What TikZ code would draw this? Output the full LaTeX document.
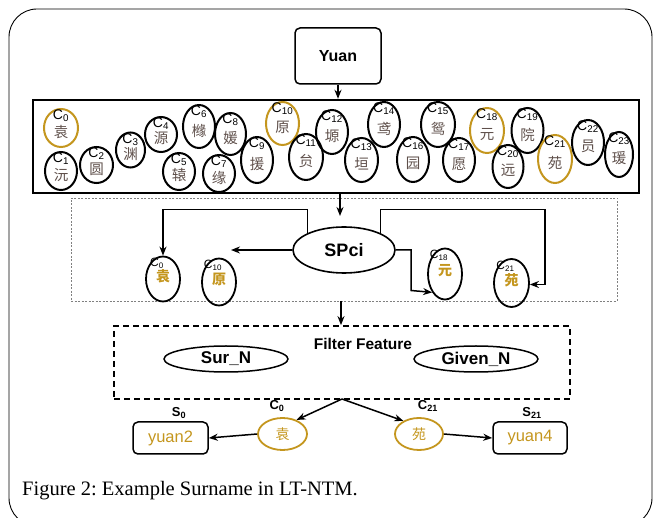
\documentclass[tikz,border=0pt]{standalone}
\usepackage{fontspec}
\setmainfont{Liberation Serif}
\setsansfont{Liberation Sans}
\newfontfamily\cjk{Noto Sans CJK SC}
\usetikzlibrary{arrows.meta,shapes.geometric}
\definecolor{gold}{RGB}{196,150,30}
\definecolor{chr}{RGB}{95,80,75}
\frenchspacing
\begin{document}
\begin{tikzpicture}[x=1pt,y=-1pt,
  cel/.style={ellipse,draw,line width=2pt,inner sep=0pt},
  toplab/.style={inner sep=0pt,font=\sffamily\fontsize{14}{14}\selectfont},
  topch/.style={inner sep=0pt,text=chr,font=\cjk\fontsize{14.5}{14.5}\selectfont},
  midlab/.style={inner sep=0pt,font=\sffamily\fontsize{12}{12}\selectfont},
  goldch/.style={inner sep=0pt,text=gold,font=\cjk\bfseries\fontsize{14}{14}\selectfont},
  goldchl/.style={inner sep=0pt,text=gold,font=\cjk\fontsize{14}{14}\selectfont},
  boldlab/.style={inner sep=0pt,font=\sffamily\bfseries\fontsize{13}{13}\selectfont},
  arr/.style={-{Stealth[length=9pt,width=7pt]},line width=1.5pt},
  rbox/.style={draw,line width=1.5pt,rounded corners=5pt,inner sep=0pt}]
\useasboundingbox (0,0) rectangle (659,518);
% outer frame
\draw[line width=0.9pt,rounded corners=28pt] (9,9) rectangle (652,526);
% Yuan
\node[rbox,minimum width=86pt,minimum height=56pt,font=\sffamily\bfseries\fontsize{16}{16}\selectfont] (yuan) at (338,56) {Yuan};
% big box
\node[draw,line width=2.4pt,minimum width=606pt,minimum height=93pt,inner sep=0pt] (big) at (336,146.5) {};
\foreach \n/\x/\y/\w/\h/\ch/\col in {
 0/61/128/34/38/袁/gold, 1/61/171/32/38/沅/black, 2/96.5/165/33/36/圆/black,
 3/130.5/150/29/35/渊/black, 4/161/134.5/32/35/源/black, 5/179/171.5/32/37/辕/black,
 6/199/126.5/32/43/橼/black, 7/219/173.5/32/37/缘/black, 8/230.5/134/31/42/媛/black,
 9/257/160/32/46/援/black, 10/282.5/123.5/33/43/原/gold, 11/306/157/34/46/贠/black,
 12/332/132/32/44/塬/black, 13/361.5/160/33/44/垣/black, 14/384/124.5/32/45/鸢/black,
 15/438/124.5/34/45/鸳/black, 16/413/159.5/32/45/园/black, 17/459/160/32/44/愿/black,
 18/487/130.5/34/45/元/gold, 19/527.5/130.5/32/45/院/black, 20/508/166.5/31/43/远/black,
 21/555/159/34/48/苑/gold, 22/588/142.5/32/45/员/black, 23/619/154.5/28/45/瑗/black}{
  \node[cel,draw=\col,minimum width=\w pt,minimum height=\h pt] (c\n) at (\x,\y) {};
  \node[toplab] (cl\n) at ([yshift=-8pt]c\n.north) {C\textsubscript{\n}};
  \node[topch] (ch\n) at ([yshift=-4pt]c\n.center) {\ch};
}
% dotted box
\node[draw=gray,line width=0.7pt,dash pattern=on 2pt off 1.5pt,minimum width=546pt,minimum height=103pt,inner sep=0pt] (dot) at (344,249.5) {};
\node[cel,line width=1.6pt,minimum width=102pt,minimum height=46pt,font=\sffamily\bfseries\fontsize{18}{18}\selectfont] (sp) at (344,250) {SPci};
\foreach \n/\x/\y/\w/\h/\ch in {0/163/279/34/45/袁, 10/219/282/34/47/原, 18/445/274/34/51/元, 21/511.5/283/35/48/苑}{
  \node[cel,line width=1.8pt,minimum width=\w pt,minimum height=\h pt] (d\n) at (\x,\y) {};
  \node[midlab] (dl\n) at ([xshift=-6pt,yshift=-8pt]d\n.north) {C\textsubscript{\n}};
  \node[goldch] (dc\n) at ([yshift=3pt]d\n.center) {\ch};
}
\coordinate (top) at (0,209.5);
\coordinate (lfree) at (231,250);
\coordinate (rr) at (545,284.5);
\coordinate (rm) at (411,290.5);
\coordinate (a2) at (340,216);
% dashed box
\node[draw,line width=1.8pt,dash pattern=on 6pt off 4pt,minimum width=456pt,minimum height=73pt,inner sep=0pt] (ff) at (342,362.5) {};
\node[inner sep=0pt,font=\sffamily\bfseries\fontsize{15.5}{15.5}\selectfont] (fft) at (363,344) {Filter Feature};
\node[cel,line width=1.5pt,minimum width=124pt,minimum height=26pt,font=\sffamily\bfseries\fontsize{17}{17}\selectfont] (sur) at (226,359) {Sur\_N};
\node[cel,line width=1.5pt,minimum width=124pt,minimum height=26pt,font=\sffamily\bfseries\fontsize{17}{17}\selectfont] (giv) at (476,359) {Given\_N};
% bottom row
\node[cel,draw=gold,line width=1.8pt,minimum width=49pt,minimum height=32pt] (bc0) at (282.5,434) {};
\node[goldchl] (bch0) at (bc0) {袁};
\node[cel,draw=gold,line width=1.8pt,minimum width=48pt,minimum height=32pt] (bc21) at (419,434) {};
\node[goldchl] (bch21) at (bc21) {苑};
\node[boldlab] (bl0) at (277,406) {C\textsubscript{0}};
\node[boldlab] (bl21) at (428,406) {C\textsubscript{21}};
\node[rbox,minimum width=75pt,minimum height=32pt,text=gold,font=\sffamily\fontsize{16.5}{16.5}\selectfont] (s0) at (170.5,438) {yuan2};
\node[rbox,minimum width=74pt,minimum height=32pt,text=gold,font=\sffamily\fontsize{16.5}{16.5}\selectfont] (s21) at (530,438) {yuan4};
\node[boldlab] (sl0) at (179,413) {S\textsubscript{0}};
\node[boldlab] (sl21) at (532,413) {S\textsubscript{21}};
\coordinate (ffb) at (342,399);
% arrows
\draw[arr] (yuan.south) -- (yuan.south |- big.north);
\draw[arr] (a2 |- big.south) -- (a2);
\draw[arr] (sp.155) -- (sp.155 |- top) -| (d0.north);
\draw[arr] (sp.west) -- (lfree);
\draw[arr] (sp.25) -- (sp.25 |- top) -| (rr) -- (d21.east |- rr);
\draw[arr] (sp.east) -| (rm) -- (d18.235);
\draw[arr] (341,301) -- (ff.north -| 341,0);
\draw[arr] (ffb) -- (bc0.45);
\draw[arr] (ffb) -- (bc21.140);
\draw[arr] (bc0.west) -- (s0.east);
\draw[arr] (bc21.east) -- (s21.west);
% caption
\node[anchor=base west,inner sep=0pt,font=\fontsize{20.5}{20.5}\selectfont] (cap) at (22,496) {Figure 2: Example Surname in LT-NTM.};
\end{tikzpicture}
\end{document}
